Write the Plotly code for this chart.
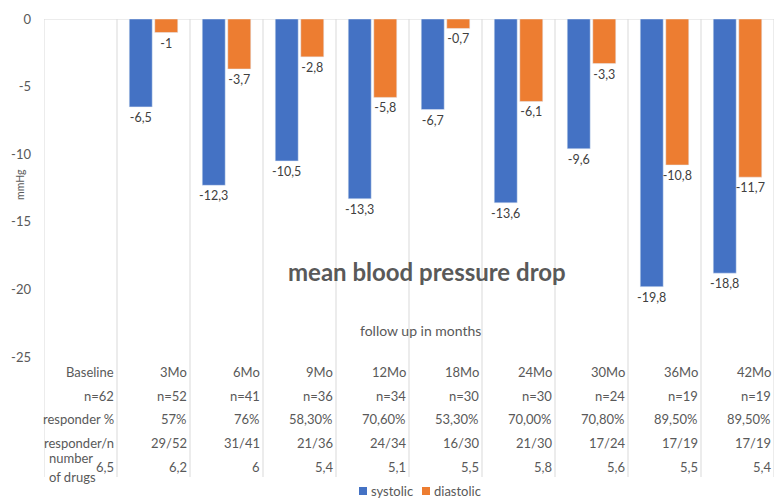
import plotly.graph_objects as go

categories = ["Baseline", "3Mo", "6Mo", "9Mo", "12Mo", "18Mo", "24Mo", "30Mo", "36Mo", "42Mo"]
systolic = [None, -6.5, -12.3, -10.5, -13.3, -6.7, -13.6, -9.6, -19.8, -18.8]
diastolic = [None, -1, -3.7, -2.8, -5.8, -0.7, -6.1, -3.3, -10.8, -11.7]
n_values = [62, 52, 41, 36, 34, 30, 30, 24, 19, 19]
responder_pct = ["", "57%", "76%", "58,30%", "70,60%", "53,30%", "70,00%", "70,80%", "89,50%", "89,50%"]
responder_n = ["", "29/52", "31/41", "21/36", "24/34", "16/30", "21/30", "17/24", "17/19", "17/19"]
num_drugs = ["6,5", "6,2", "6", "5,4", "5,1", "5,5", "5,8", "5,6", "5,5", "5,4"]
y_ticks = [0, -5, -10, -15, -20, -25]
series_names = ["systolic", "diastolic"]
series_colors = ["#4472C4", "#ED7D31"]

W, H = 775, 498
ML, MR, MT, MB = 44, 1, 19, 21
PLOT_W = W - ML - MR
PLOT_H = H - MT - MB
PX_PER_UNIT = 338 / 25.0
Y_MIN = -PLOT_H / PX_PER_UNIT

def fmt(v):
    return "" if v is None else ("%g" % v).replace(".", ",")

def ypx(py):
    return -(py - MT) / PX_PER_UNIT

def xp(px):
    return (px - ML) / PLOT_W

def yp(py):
    return (H - MB - py) / PLOT_H

GREY = "#595959"
FONT = "Lato"

fig = go.Figure()
for name, vals, col in zip(series_names, [systolic, diastolic], series_colors):
    fig.add_trace(go.Bar(name=name, x=categories, y=vals, showlegend=False,
                         marker_color=col, text=[fmt(v) for v in vals],
                         textposition="outside", cliponaxis=False, constraintext="none",
                         textfont=dict(color="#404040", size=12.5, family=FONT)))

shapes = []
for k in range(len(categories) + 1):
    shapes.append(dict(type="line", xref="x", yref="paper", x0=k - 0.5, x1=k - 0.5,
                       y0=0, y1=1, line=dict(color="#d9d9d9", width=1), layer="below"))
shapes.append(dict(type="line", xref="paper", yref="y", x0=0, x1=1, y0=0, y1=0,
                   line=dict(color="#d9d9d9", width=1), layer="below"))

ann = []
rows = [
    (372, categories),
    (396, ["n=%d" % v for v in n_values]),
    (419, ["responder %"] + responder_pct[1:]),
    (443, ["responder/n"] + responder_n[1:]),
    (467, num_drugs),
]
for py, vals in rows:
    for i, t in enumerate(vals):
        ann.append(dict(x=i + 0.5, y=ypx(py), xref="x", yref="y", text=t,
                        xanchor="right", yanchor="middle", xshift=-1, showarrow=False,
                        font=dict(size=13, color=GREY, family=FONT)))
for py, t in [(458, "number"), (477, "of drugs")]:
    ann.append(dict(x=-0.5, y=ypx(py), xref="x", yref="y", text=t,
                    xanchor="left", yanchor="middle", xshift=3, showarrow=False,
                    font=dict(size=13, color=GREY, family=FONT)))

ann.append(dict(x=xp(427), y=ypx(271), xref="paper", yref="y",
                text="<b>mean blood pressure drop</b>", showarrow=False,
                xanchor="center", yanchor="middle",
                font=dict(size=24, color=GREY, family=FONT)))
ann.append(dict(x=xp(420), y=ypx(330), xref="paper", yref="y",
                text="follow up in months", showarrow=False,
                xanchor="center", yanchor="middle",
                font=dict(size=14, color=GREY, family=FONT)))
ann.append(dict(x=xp(20), y=ypx(185), xref="paper", yref="y",
                text="mmHg", showarrow=False, textangle=-90,
                xanchor="center", yanchor="middle",
                font=dict(size=10.5, color=GREY, family=FONT)))

# legend (small squares + labels, as in the reference)
legend_x = [359, 422]
for lx, name, col in zip(legend_x, series_names, series_colors):
    shapes.append(dict(type="rect", xref="paper", yref="paper",
                       x0=xp(lx), x1=xp(lx + 8), y0=yp(495), y1=yp(487),
                       fillcolor=col, line=dict(width=0)))
    ann.append(dict(x=xp(lx + 10), y=yp(491), xref="paper", yref="paper",
                    text=name, showarrow=False, xanchor="left", yanchor="middle",
                    font=dict(size=13, color=GREY, family=FONT)))

fig.update_layout(
    width=W, height=H,
    margin=dict(l=ML, r=MR, t=MT, b=MB, pad=0, autoexpand=False),
    paper_bgcolor="white", plot_bgcolor="white",
    barmode="group", bargap=0.3, bargroupgap=0.1,
    font=dict(family=FONT, color=GREY, size=12),
    xaxis=dict(type="category", range=[-0.5, len(categories) - 0.5], automargin=False,
               showticklabels=False, showgrid=False, zeroline=False, showline=False),
    yaxis=dict(range=[Y_MIN, 0], tickvals=y_ticks, ticktext=[str(v) for v in y_ticks],
               showgrid=False, zeroline=False, showline=False, automargin=False,
               ticklabelstandoff=12, tickfont=dict(size=13, color=GREY, family=FONT)),
    showlegend=False,
    shapes=shapes, annotations=ann,
)

fig.write_html("out.html", config={"displayModeBar": False},
               post_script="document.body.style.margin='0px';document.body.style.overflow='hidden';")
